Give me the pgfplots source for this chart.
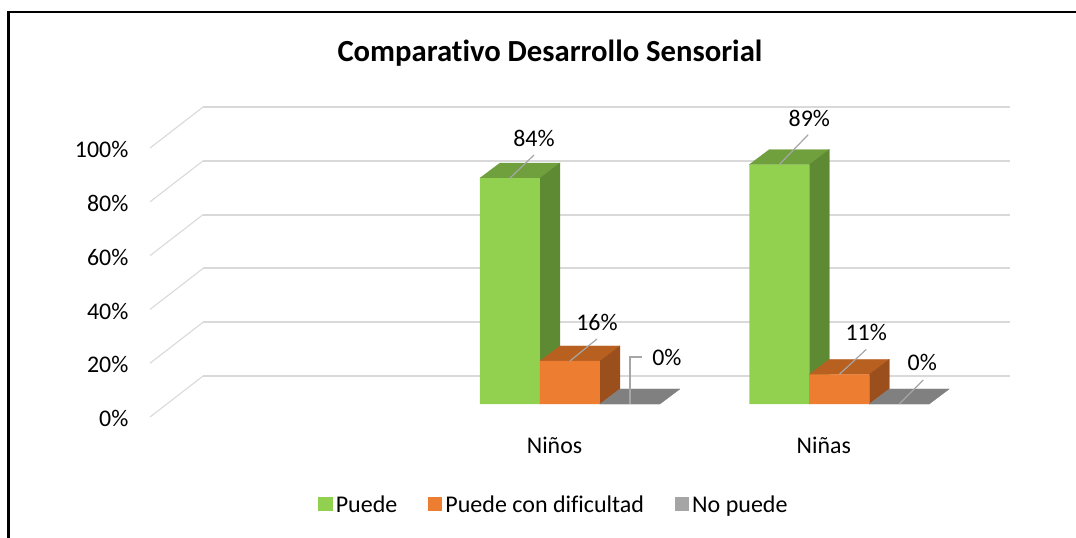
\documentclass[border=0pt]{standalone}
\usepackage{fontspec}
\setmainfont{Carlito}[Ligatures={NoCommon}]
\usepackage{pgfplots}
\usepackage{pgfplotstable}
\pgfplotsset{compat=1.18}
\definecolor{gF}{HTML}{92D050}
\definecolor{gT}{HTML}{70A03E}
\definecolor{gS}{HTML}{5E8A33}
\definecolor{oF}{HTML}{ED7D31}
\definecolor{oT}{HTML}{B8601F}
\definecolor{oS}{HTML}{9B4F1C}
\definecolor{yT}{HTML}{808080}
\definecolor{yL}{HTML}{A5A5A5}
\definecolor{gridc}{HTML}{D9D9D9}
\definecolor{lead}{HTML}{A6A6A6}
\tikzset{lbl/.style={font=\fontsize{17.9}{20}\selectfont, anchor=center, inner sep=0pt}}
\pgfplotstableread{
x puede dificultad nopuede
1 84 16 0
2 89 11 0
}\datatable
\newcommand{\dlabel}[7]{%
  \draw[lead,line width=0.9pt] (axis cs:#1,#2) -- ++(#3,#4);
  \path (axis cs:#1,#2) ++(#5,#6) node[lbl]{#7};
}
\begin{document}
\begin{tikzpicture}
\useasboundingbox (0,0) rectangle (807pt,402.75pt);
\fill[white] (0,0) rectangle (807pt,402.75pt);
\draw[black,line width=1.9pt] (6.525pt,-5pt) -- (6.525pt,393.9pt) -- (812pt,393.9pt);
\begin{axis}[
  at={(124.54pt,99.75pt)}, anchor=south west,
  scale only axis, width=605.9pt, height=201.75pt,
  xmin=-0.5, xmax=2.5, ymin=0, ymax=100,
  clip=false,
  axis line style={draw=none},
  tick style={draw=none},
  major tick length=0pt,
  xtick={1,2}, xticklabels={Niños,Niñas},
  ytick={0,20,40,60,80,100},
  yticklabel={\pgfmathprintnumber{\tick}\%},
  /pgf/number format/assume math mode=true,
  ticklabel style={font=\fontsize{17.9}{20}\selectfont},
  yticklabel style={anchor=east, inner sep=0pt, xshift=-28.1pt, yshift=-11pt},
  xticklabel style={anchor=base, inner sep=0pt, xshift=-11.6pt, yshift=-37pt},
  title={Comparativo Desarrollo Sensorial},
  title style={at={(0.4752,1.245)}, anchor=base, font=\bfseries\fontsize{23}{26}\selectfont, inner sep=0pt},
  legend columns=3,
  legend style={at={(0.4808,-0.3755)}, anchor=center, draw=none, fill=none,
    font=\fontsize{18}{20}\selectfont, inner sep=0pt,
    nodes={inner sep=2.4pt},
    /tikz/every even column/.append style={column sep=20.5pt}},
  legend cell align=left,
  legend image code/.code={\fill[#1] (0pt,-4.5pt) rectangle (10.8pt,6.3pt);},
]
% back wall grid and side diagonals
\pgfplotsinvokeforeach{0,20,40,60,80,100}{
  \draw[gridc, line width=0.8pt] (axis cs:-0.5594,#1-4.83) -- (axis cs:-0.3626,#1+10.4);
  \draw[gridc, line width=1.4pt] (axis cs:-0.3626,#1+10.4) -- (axis cs:2.634,#1+10.4);
}
% green 3D faces
\addplot[fill=gT, draw=gT, line width=0.2pt, forget plot] coordinates {(0.6658,84) (0.8886,84) (0.9629,89.58) (0.7401,89.58)} -- cycle;
\addplot[fill=gS, draw=gS, line width=0.2pt, forget plot] coordinates {(0.8886,0) (0.9629,5.58) (0.9629,89.58) (0.8886,84)} -- cycle;
\addplot[fill=gT, draw=gT, line width=0.2pt, forget plot] coordinates {(1.6658,89) (1.8886,89) (1.9629,94.58) (1.7401,94.58)} -- cycle;
\addplot[fill=gS, draw=gS, line width=0.2pt, forget plot] coordinates {(1.8886,0) (1.9629,5.58) (1.9629,94.58) (1.8886,89)} -- cycle;
% green fronts
\addplot[ybar, bar width=0.2228, bar shift=-0.2228, fill=gF, draw=none] table[x=x,y=puede]{\datatable};
\addlegendentry{Puede}
% orange 3D faces
\addplot[fill=oT, draw=oT, line width=0.2pt, forget plot] coordinates {(0.8886,16) (1.1114,16) (1.1857,21.58) (0.9629,21.58)} -- cycle;
\addplot[fill=oS, draw=oS, line width=0.2pt, forget plot] coordinates {(1.1114,0) (1.1857,5.58) (1.1857,21.58) (1.1114,16)} -- cycle;
\addplot[fill=oT, draw=oT, line width=0.2pt, forget plot] coordinates {(1.8886,11) (2.1114,11) (2.1857,16.58) (1.9629,16.58)} -- cycle;
\addplot[fill=oS, draw=oS, line width=0.2pt, forget plot] coordinates {(2.1114,0) (2.1857,5.58) (2.1857,16.58) (2.1114,11)} -- cycle;
\addplot[ybar, bar width=0.2228, bar shift=0, fill=oF, draw=none] table[x=x,y=dificultad]{\datatable};
\addlegendentry{Puede con dificultad}
% gray (0%) faces
\addplot[fill=yT, draw=yT, line width=0.2pt, forget plot] coordinates {(1.1114,0) (1.3342,0) (1.4085,5.58) (1.1857,5.58)} -- cycle;
\addplot[fill=yT, draw=yT, line width=0.2pt, forget plot] coordinates {(2.1114,0) (2.3342,0) (2.4085,5.58) (2.1857,5.58)} -- cycle;
\addplot[ybar, bar width=0.2228, bar shift=0.2228, fill=yL, draw=none] table[x=x,y=nopuede]{\datatable};
\addlegendentry{No puede}
% data labels
\dlabel{0.7772}{84}{18pt}{17.25pt}{18pt}{30pt}{84\%}
\dlabel{1.7772}{89}{21.75pt}{22.5pt}{22.5pt}{34.5pt}{89\%}
\dlabel{1.0}{16}{20.25pt}{16.5pt}{20.25pt}{29.25pt}{16\%}
\dlabel{2.0}{11}{20.25pt}{18.75pt}{20.25pt}{31.5pt}{11\%}
\dlabel{2.2228}{0}{18pt}{18pt}{17.25pt}{31.5pt}{0\%}
\draw[lead,line width=0.9pt] (axis cs:1.2228,0) -- ++(0pt,35.25pt) -- ++(9pt,0pt);
\path (axis cs:1.2228,0) ++(16.5pt,35.25pt) node[lbl,anchor=west]{0\%};
\end{axis}
\end{tikzpicture}
\end{document}
